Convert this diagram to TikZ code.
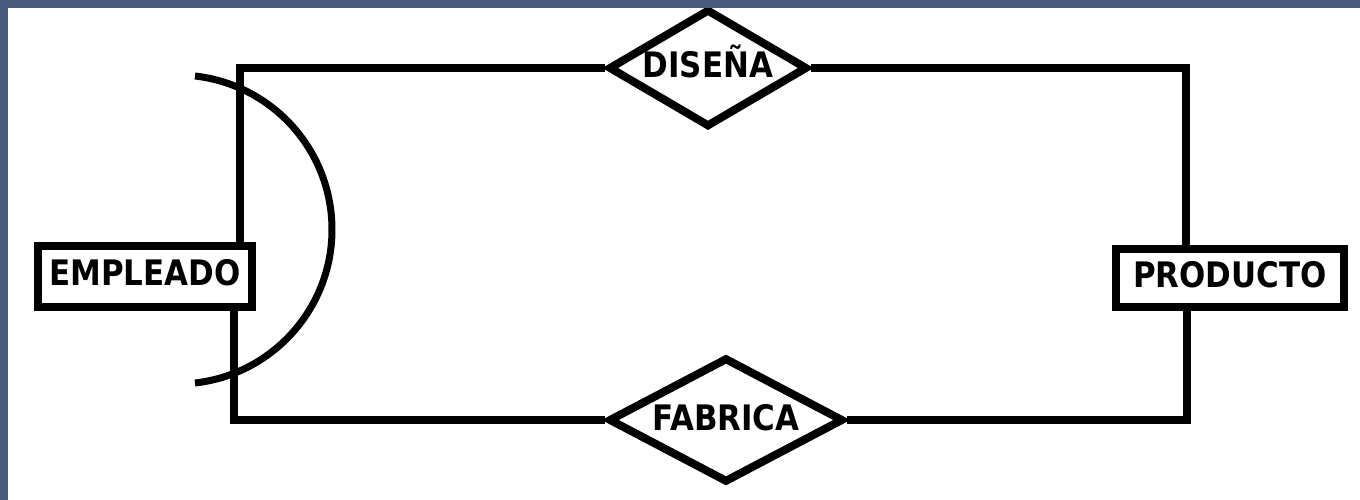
\documentclass[tikz,border=0pt]{standalone}
\usepackage{fontspec}
\usetikzlibrary{shapes.geometric}
\newfontfamily\erfont[FakeStretch=0.88]{DejaVu Sans Bold}
\definecolor{framegray}{RGB}{73,89,122}

\begin{document}
\begin{tikzpicture}[
    x=0.02cm, y=-0.02cm,
    erline/.style={line width=0.16cm},
    arcline/.style={line width=0.14cm},
    entity/.style={draw, line width=0.16cm, inner sep=0pt, text depth=0.16cm,
      font=\erfont\fontsize{20}{24}\selectfont},
    relation/.style={draw, diamond, line width=0.16cm, inner sep=0pt,
      text height=0.5cm, text depth=0.1cm,
      font=\erfont\fontsize{20}{24}\selectfont},
  ]
  \useasboundingbox (0,0) rectangle (1360,500);
  \fill[white] (0,0) rectangle (1360,500);

  % ========= ENTITIES =========
  \node[entity, minimum width=4.28cm, minimum height=1.22cm] (emp) at (145,276.5) {EMPLEADO};
  \node[entity, minimum width=4.56cm, minimum height=1.16cm] (prod) at (1230,278) {PRODUCTO};

  % ========= RELATIONSHIPS =========
  \node[relation, minimum width=3.98cm, minimum height=2.36cm, aspect=1.7] (disena) at (708,68) {DISEÑA};
  \node[relation, minimum width=4.7cm, minimum height=2.5cm, aspect=1.9] (fabrica) at (726,420) {FABRICA};

  % corner columns
  \coordinate (tl) at (240,68);
  \coordinate (bl) at (234,420);
  \coordinate (tr) at (1186,68);
  \coordinate (br) at (1187,420);

  % Links
  \draw[erline] (emp.north -| tl) |- (disena.west);
  \draw[erline] (disena.east) -| (prod.north -| tr);
  \draw[erline] (emp.south -| bl) |- (fabrica.west);
  \draw[erline] (fabrica.east) -| (prod.south -| br);

  % Arc over both links of EMPLEADO
  \draw[arcline] (177.5,229.5) ++(83.5:154.5) arc[start angle=83.5, end angle=-83.5, radius=154.5];

  % Window frame
  \fill[framegray] (0,0) rectangle (1360,8);
  \fill[framegray] (0,0) rectangle (8,500);
\end{tikzpicture}
\end{document}
